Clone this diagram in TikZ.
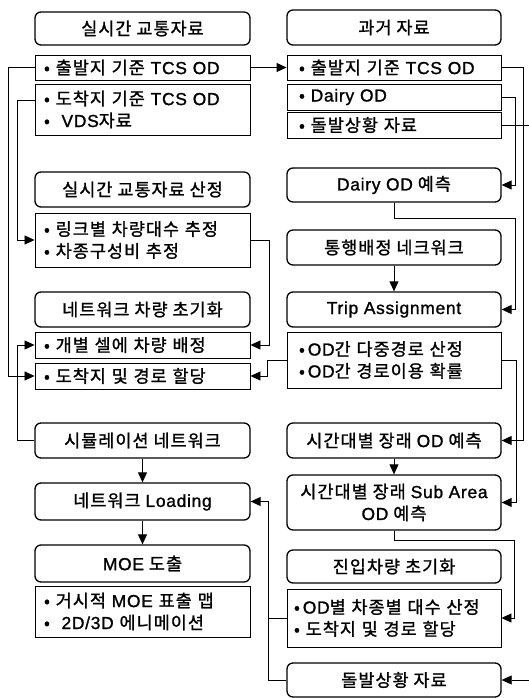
\documentclass[tikz,border=0pt]{standalone}
\usepackage{fontspec}
\newfontfamily\kr{Noto Sans CJK KR}[LetterSpace=6,FakeBold=1.2]
\newfontfamily\lat{Liberation Sans}[LetterSpace=4,FakeBold=1.2]
\usetikzlibrary{arrows.meta}
\begin{document}
\begin{tikzpicture}[x=1bp,y=-1bp,
  txt/.style={font=\kr\fontsize{17.5}{22}\selectfont},
  hdr/.style={txt, draw, line width=1.3pt, rounded corners=6bp, inner sep=0pt, align=center},
  lstL/.style={txt, draw, line width=0.9pt, inner xsep=9bp, inner ysep=0pt, align=left, text width=197bp, minimum width=215bp},
  lstR/.style={txt, draw, line width=0.9pt, inner xsep=12bp, inner ysep=0pt, align=left, text width=190bp, minimum width=214bp},
  ln/.style={line width=0.9pt},
  arr/.style={ln, -{Triangle[length=10bp,width=9bp]}}
]
\useasboundingbox (0,0) rectangle (529,698);
% left column
\node[hdr, minimum width=215bp, minimum height=33bp] (L1) at (142.5,28.5) {실시간 교통자료};
\node[lstL, minimum height=25bp] (L2) at (142.5,67.5) {• 출발지 기준 {\lat TCS OD}};
\node[lstL, minimum height=51bp] (L3) at (142.5,109.5) {• 도착지 기준 {\lat TCS OD}\\•\ \ {\lat VDS}자료};
\node[hdr, minimum width=215bp, minimum height=35bp] (L4) at (142.5,189.5) {실시간 교통자료 산정};
\node[lstL, minimum height=54bp] (L5) at (142.5,240) {• 링크별 차량대수 추정\\• 차종구성비 추정};
\node[hdr, minimum width=215bp, minimum height=35bp] (L6) at (142.5,309.5) {네트워크 차량 초기화};
\node[lstL, minimum height=26bp] (L7) at (142.5,345) {• 개별 셀에 차량 배정};
\node[lstL, minimum height=26bp] (L8) at (142.5,376) {• 도착지 및 경로 할당};
\node[hdr, minimum width=215bp, minimum height=35bp] (L9) at (142.5,440.5) {시뮬레이션 네트워크};
\node[hdr, minimum width=215bp, minimum height=37bp] (L10) at (142.5,501.5) {네트워크 {\lat Loading}};
\node[hdr, minimum width=215bp, minimum height=37bp] (L11) at (142.5,563.5) {{\lat MOE} 도출};
\node[lstL, minimum height=51bp] (L12) at (142.5,611.5) {• 거시적 {\lat MOE} 표출 맵\\•\ \ {\lat 2D/3D} 에니메이션};
% right column
\node[hdr, minimum width=214bp, minimum height=35bp] (R1) at (394,27.5) {과거 자료};
\node[lstR, minimum height=25bp] (R2) at (394,67.5) {• 출발지 기준 {\lat TCS OD}};
\node[lstR, minimum height=26bp] (R3) at (394,97) {• {\lat Dairy OD}};
\node[lstR, minimum height=26bp] (R4) at (394,125) {• 돌발상황 자료};
\node[hdr, minimum width=214bp, minimum height=34bp] (R5) at (394,185) {{\lat Dairy OD} 예측};
\node[hdr, minimum width=214bp, minimum height=35bp] (R6) at (394,247.5) {통행배정 네크워크};
\node[hdr, minimum width=214bp, minimum height=35bp] (R7) at (394,309.5) {{\lat Trip Assignment}};
\node[lstR, minimum height=56bp] (R8) at (394,360) {•\,{\lat OD}간 다중경로 산정\\•\,{\lat OD}간 경로이용 확률};
\node[hdr, minimum width=214bp, minimum height=35bp] (R9) at (394,440.5) {시간대별 장래 {\lat OD} 예측};
\node[hdr, minimum width=214bp, minimum height=55bp] (R10) at (394,502.5) {시간대별 장래 {\lat Sub Area}\\{\lat OD} 예측};
\node[hdr, minimum width=214bp, minimum height=33bp] (R11) at (394,566.5) {진입차량 초기화};
\node[lstR, inner xsep=7bp, text width=200bp, minimum height=58bp] (R12) at (394,618) {•\,{\lat OD}별 차종별 대수 산정\\• 도착지 및 경로 할당};
\node[hdr, minimum width=214bp, minimum height=34bp] (R13) at (394,680) {돌발상황 자료};
% free ends at the page edge
\coordinate (eA) at (529,125);
\coordinate (eB) at (529,680);
% connectors
\draw[arr] (L2.east) -- (R2.west);
\draw[arr] (L2.west) -- ++(-26,0) |- (L8.west);
\draw[arr] ([yshift=9.5bp]L3.west) -- ++(-17,0) |- (L5.west);
\draw[arr] (L9.west) -- ++(-17,0) |- (L7.west);
\draw[arr] (L5.east) -- ++(19,0) |- (L7.east);
\draw[arr] (R8.west) -- ++(-19,0) |- (L8.east);
\draw[arr] (R13.west) -- ++(-18,0) |- (L10.east);
\draw[ln] (R12.west) -- ++(-18,0);
\draw[arr] (L9.south) -- (L10.north);
\draw[arr] (L10.south) -- (L11.north);
\draw[arr] (R6.south) -- (R7.north);
\draw[arr] (R9.south) -- (R10.north);
\draw[arr] (R5.south) -- ++(0,16) -- ++(121,0) |- (R7.east);
\draw[arr] (R3.east) -- ++(14,0) |- (R5.east);
\draw[arr] (R2.east) -- ++(22,0) |- (R9.east);
\draw[arr] (R8.east) -- ++(15,0) |- (R10.east);
\draw[arr] (R10.south) -- ++(0,10) -- ++(120,0) |- (R12.east);
\draw[ln] (R4.east) -- (eA);
\draw[line width=0.6pt, -{Triangle[length=10bp,width=9bp]}] (eB) -- (R13.east);
\end{tikzpicture}
\end{document}
